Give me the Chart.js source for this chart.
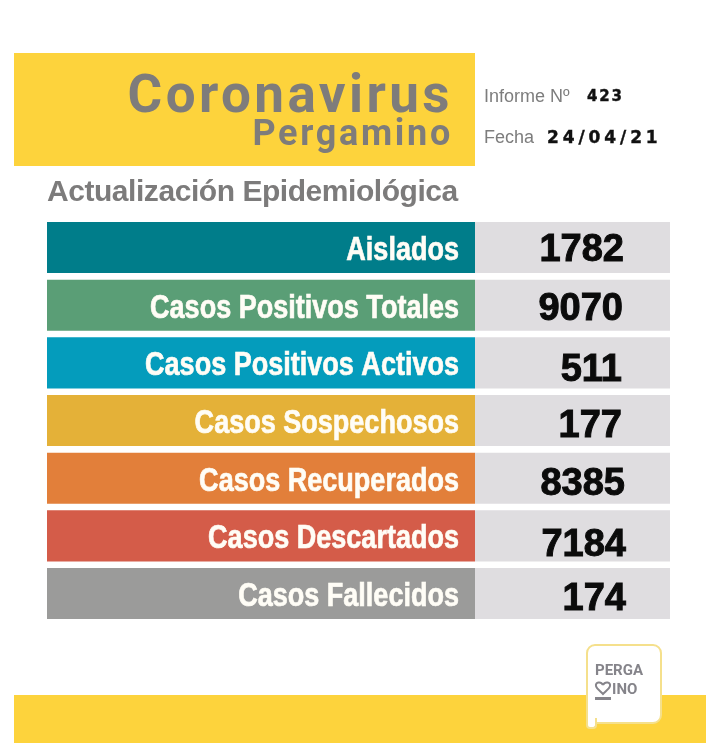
<!DOCTYPE html>
<html lang="es">
<head>
<meta charset="utf-8">
<title>Coronavirus Pergamino</title>
<script src="https://cdn.jsdelivr.net/npm/chart.js@4"></script>
<style>
html,body{margin:0;padding:0;background:#fff;width:720px;height:745px;overflow:hidden}
#stage{position:relative;width:720px;height:745px;font-family:"Liberation Sans",Arial,sans-serif}
#stage>*{position:absolute}
canvas{left:0;top:0;z-index:1}
.band{background:#fdd33c}
.t{white-space:nowrap;z-index:2;line-height:1}
</style>
</head>
<body>
<div id="stage">
  <div class="band" style="left:14px;top:53px;width:461px;height:113px"></div>
  <div class="band" style="left:14px;top:695px;width:692px;height:48px"></div>
  <canvas id="c" width="720" height="745"></canvas>

  <div class="t" style="right:267px;top:63px;font:bold 53px 'Roboto',sans-serif;letter-spacing:3.4px;color:#7e7c7b">Coronavirus</div>
  <div class="t" style="right:267px;top:112px;font:bold 36px 'Roboto',sans-serif;letter-spacing:2.7px;color:#7e7c7b">Pergamino</div>
  <div class="t" style="left:484px;top:86px;font:18px 'Liberation Sans',sans-serif;color:#7d7d7d">Informe Nº</div>
  <div class="t" style="left:587px;top:87px;font:bold 15px 'DejaVu Sans',sans-serif;letter-spacing:1.8px;color:#111;-webkit-text-stroke:.4px #111">423</div>
  <div class="t" style="left:484px;top:127px;font:18px 'Liberation Sans',sans-serif;color:#7d7d7d">Fecha</div>
  <div class="t" style="left:547px;top:127px;font:bold 17px 'DejaVu Sans',sans-serif;letter-spacing:3.9px;color:#111;-webkit-text-stroke:.4px #111">24/04/21</div>
  <div class="t" style="left:47px;top:174px;font:bold 30px 'Liberation Sans',sans-serif;letter-spacing:-.45px;color:#7c7b7b">Actualización Epidemiológica</div>

  <div style="left:586px;top:644px;width:72px;height:76px;background:#fff;border:2.5px solid #f5e08c;border-radius:9px 9px 9px 0;z-index:2"></div>
  <div style="left:586px;top:718px;width:7px;height:9px;background:#fff;border:solid #f5e08c;border-width:0 2px 2px 2.5px;border-radius:0 0 4px 4px;z-index:2"></div>
  <div class="t" style="left:595px;top:661px;font:bold 15px 'Roboto',sans-serif;color:#85848a;z-index:3">PERGA</div>
  <div class="t" style="left:612px;top:680px;font:bold 15px 'Roboto',sans-serif;color:#85848a;z-index:3">INO</div>
  <svg style="left:594px;top:680px;z-index:3" width="18" height="16" viewBox="0 0 18 16"><path d="M9 5C7 1 1 2 2 6c.6 2.600 4 5 7 8 3-3 6.400-5.400 7-8 1-4-5-5-7-1" fill="none" stroke="#85848a" stroke-width="2"/></svg>
  <div style="left:595px;top:697px;width:16px;height:2.500px;background:#85848a;z-index:3"></div>
</div>

<script>
const categories = ["Aislados","Casos Positivos Totales","Casos Positivos Activos","Casos Sospechosos","Casos Recuperados","Casos Descartados","Casos Fallecidos"];
const caseCounts = [1782,9070,511,177,8385,7184,174];
const rowColors = ["#007d8a","#5a9e76","#049cbc","#e4b138","#e27f3a","#d45c49","#9b9b9a"];

const panelSplit = 428 / 623;
const valueNudgeY = [3, 4, 8, 6, 6, 10, 6];
const valueNudgeX = [0, -1, -2, -2, 1, 2, 2];

const rowText = {
  id: "rowText",
  afterDatasetsDraw(chart) {
    const ctx = chart.ctx;
    const left = chart.getDatasetMeta(0).data;
    const right = chart.getDatasetMeta(1).data;
    ctx.save();
    ctx.textBaseline = "middle";
    categories.forEach((name, i) => {
      const y = left[i].y;
      ctx.textAlign = "right";
      ctx.fillStyle = "#fffdf6";
      ctx.strokeStyle = "#fffdf6";
      ctx.lineWidth = 0.7;
      ctx.font = "bold 34px 'Liberation Sans',sans-serif";
      ctx.save();
      ctx.translate(left[i].x - 16, y + 3);
      ctx.scale(0.795, 1);
      ctx.fillText(name, 0, 0);
      ctx.strokeText(name, 0, 0);
      ctx.restore();
      ctx.fillStyle = "#0b0b0b";
      ctx.strokeStyle = "#0b0b0b";
      ctx.lineWidth = 1;
      ctx.font = "bold 38px 'Liberation Sans',sans-serif";
      const vx = right[i].x - 46 + valueNudgeX[i], vy = y + valueNudgeY[i];
      ctx.fillText(String(caseCounts[i]), vx, vy);
      ctx.strokeText(String(caseCounts[i]), vx, vy);
    });
    ctx.restore();
  }
};

new Chart(document.getElementById("c"), {
  type: "bar",
  plugins: [rowText],
  data: {
    labels: categories,
    datasets: [
      { label: "Indicador", data: categories.map(() => [0, panelSplit]), backgroundColor: rowColors },
      { label: "Casos", data: categories.map(() => [panelSplit, 1]), backgroundColor: "#dfdde0" }
    ]
  },
  options: {
    indexAxis: "y",
    responsive: false,
    animation: false,
    layout: { padding: { left: 47, right: 50, top: 218.7, bottom: 122.6 } },
    datasets: { bar: { categoryPercentage: 1, barPercentage: 0.885, grouped: false } },
    plugins: { legend: { display: false }, tooltip: { enabled: false }, title: { display: false } },
    scales: {
      x: { display: false, min: 0, max: 1 },
      y: { display: false }
    }
  }
});
</script>
</body>
</html>
